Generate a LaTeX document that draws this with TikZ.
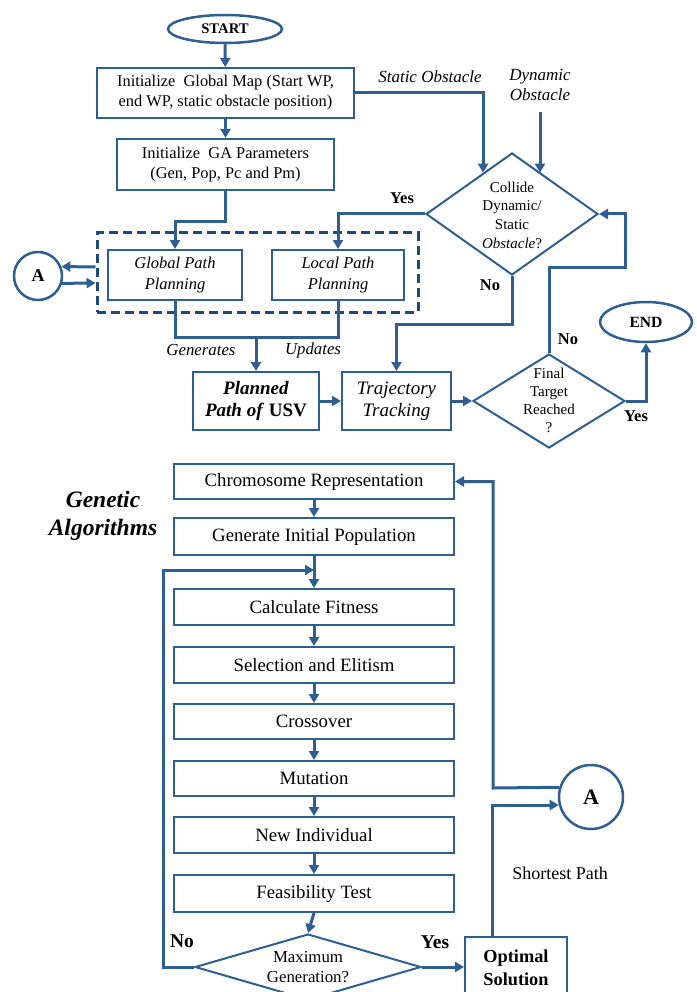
\documentclass[tikz,border=0pt]{standalone}
\usepackage{fontspec}
\setmainfont{Liberation Serif}
\usetikzlibrary{arrows.meta,shapes.geometric}
\definecolor{fc}{RGB}{46,95,146}
\definecolor{dc}{RGB}{31,73,125}
\begin{document}
\begin{tikzpicture}[x=1pt,y=-1pt,
  conn/.style={draw=fc,line width=3pt,-{Triangle[length=9pt,width=10pt]}},
  wire/.style={draw=fc,line width=3pt},
  box/.style={draw=fc,line width=2pt,rectangle,inner sep=0pt,align=center},
  dia/.style={draw=fc,line width=2pt,diamond,inner sep=0pt},
  term/.style={draw=fc,line width=2.5pt,ellipse,inner sep=0pt},
  conc/.style={draw=fc,line width=2.5pt,circle,inner sep=0pt},
  lbl/.style={inner sep=0pt,align=center},
  ftop/.style={font=\fontsize{16.4}{20}\selectfont},
  fbot/.style={font=\fontsize{18.8}{22}\selectfont},
  yntop/.style={lbl,font=\fontsize{16.5}{20}\selectfont\bfseries},
  ynbot/.style={lbl,font=\fontsize{19.5}{22}\selectfont\bfseries},
  ]
\clip (0,0) rectangle (696,992);
\fill[white] (0,0) rectangle (696,992);

% ---------- top flowchart ----------
\node[term,minimum width=114pt,minimum height=28pt,font=\fontsize{14.7}{17}\selectfont\bfseries] (start) at (225,29) {START};
\node[box,ftop,minimum width=257pt,minimum height=50pt] (b1) at (225.5,93) {Initialize\ \ Global Map (Start WP,\\end WP, static obstacle position)};
\node[box,ftop,minimum width=217pt,minimum height=51pt] (b2) at (225.5,164.5) {Initialize\ \ GA Parameters\\(Gen, Pop, Pc and Pm)};
\node[draw=dc,line width=3pt,dash pattern=on 9pt off 5pt,rectangle,minimum width=321pt,minimum height=79pt] (dbox) at (257.5,272.5) {};
\node[box,minimum width=134pt,minimum height=50pt,font=\fontsize{16.5}{21}\selectfont\itshape] (glob) at (175,275) {Global Path\\Planning};
\node[box,minimum width=132pt,minimum height=50pt,font=\fontsize{16.5}{21}\selectfont\itshape] (loc) at (338,275) {Local Path\\Planning};
\node[conc,minimum size=48pt,font=\fontsize{18}{20}\selectfont\bfseries] (A1) at (38,276) {A};
\node[box,minimum width=126pt,minimum height=58pt,font=\fontsize{19}{22}\selectfont] (plan) at (256,401) {\textbf{\textit{Planned}}\\\textbf{\textit{Path of} USV}};
\node[box,minimum width=109pt,minimum height=58pt,font=\fontsize{19}{22}\selectfont\itshape] (traj) at (396.5,401) {Trajectory\\Tracking};
\node[dia,minimum width=172pt,minimum height=122pt] (col) at (512,214) {};
\node[lbl,font=\fontsize{15}{18.7}\selectfont] (coltxt) at (512,215) {Collide\\Dynamic/\\Static\\\textit{Obstacle}?};
\node[dia,minimum width=152pt,minimum height=94pt] (fin) at (549,401) {};
\node[lbl,font=\fontsize{15}{18}\selectfont] (fintxt) at (549,400) {Final\\Target\\Reached\\?};
\node[term,minimum width=92pt,minimum height=40pt,font=\fontsize{15.6}{18}\selectfont\bfseries] (end) at (646,322) {END};

\node[lbl,font=\fontsize{17}{20}\selectfont\itshape] (slbl) at (430,77) {Static Obstacle};
\node[lbl,font=\fontsize{17}{20}\selectfont\itshape] (dlbl) at (540,85) {Dynamic\\Obstacle};
\node[yntop] (yes1) at (402,198) {Yes};
\node[yntop] (no1) at (490,285) {No};
\node[yntop] (no2) at (568,339) {No};
\node[yntop] (yes2) at (636,416) {Yes};
\node[lbl,font=\fontsize{16.8}{20}\selectfont\itshape] (gen) at (201,350) {Generates};
\node[lbl,font=\fontsize{16.8}{20}\selectfont\itshape] (upd) at (313,350) {Updates};

\coordinate (dynst) at (540,112);
\coordinate (mid) at (256,336);

\draw[conn] (start) -- (b1);
\draw[conn] (b1) -- (b2);
\draw[conn] (b2.south) -- ++(0,31) -| (glob.north);
\draw[conn] (b1.east) -| (col.125.67);
\draw[conn] (dynst) -- (dynst |- col.55.73);
\draw[conn] (col.west) -| (loc.north);
\draw[conn] (col.south) -- ++(0,48) -| (traj.north);
\draw[wire] (glob.south) -- ++(0,36) -| (loc.south);
\draw[conn] (mid) -- (plan.north);
\draw[conn] (plan.east) -- (traj.west);
\draw[conn] (traj.east) -- (fin.west);
\draw[conn] (fin.north) |- (625,267) |- (col.east);
\draw[conn] (fin.east) -| (end.south);
\draw[conn] ([yshift=5.5pt]dbox.west) -- (A1.22);
\draw[conn] (A1.-17) -- ([yshift=-10.5pt]dbox.west);

% ---------- genetic algorithm ----------
\node[lbl,font=\fontsize{23.5}{28}\selectfont\bfseries\itshape] (ga) at (103,516) {Genetic\\Algorithms};
\node[box,fbot,minimum width=280pt,minimum height=35pt] (chrom) at (314,481.5) {Chromosome Representation};
\node[box,fbot,minimum width=280pt,minimum height=37pt] (gip) at (314,536.5) {Generate Initial Population};
\node[box,fbot,minimum width=280pt,minimum height=36pt] (cf) at (314,607) {Calculate Fitness};
\node[box,fbot,minimum width=280pt,minimum height=36pt] (sel) at (314,665) {Selection and Elitism};
\node[box,fbot,minimum width=280pt,minimum height=35pt] (cro) at (314,721.5) {Crossover};
\node[box,fbot,minimum width=280pt,minimum height=35pt] (mut) at (314,778.5) {Mutation};
\node[box,fbot,minimum width=280pt,minimum height=36pt] (ni) at (314,835) {New Individual};
\node[box,fbot,minimum width=280pt,minimum height=37pt] (feas) at (314,893.5) {Feasibility Test};
\node[dia,minimum width=226pt,minimum height=66pt] (mg) at (308,967) {};
\node[lbl,font=\fontsize{16.8}{20}\selectfont] (mgtxt) at (308,967) {Maximum\\Generation?};
\node[box,minimum width=102pt,minimum height=62pt,font=\fontsize{18.3}{23}\selectfont\bfseries] (opt) at (516,968) {Optimal\\Solution};
\node[conc,minimum size=64pt,font=\fontsize{22}{24}\selectfont\bfseries] (A2) at (591,797) {A};
\node[lbl,font=\fontsize{18}{20}\selectfont] (sp) at (560,873) {Shortest Path};
\node[ynbot] (no3) at (182,941) {No};
\node[ynbot] (yes3) at (435,942) {Yes};

\coordinate (lp) at (163,570);
\coordinate (jn) at (314,570);
\coordinate (rt) at (493,788);

\draw[conn] (chrom) -- (gip);
\draw[conn] (gip) -- (cf);
\draw[conn] (cf) -- (sel);
\draw[conn] (sel) -- (cro);
\draw[conn] (cro) -- (mut);
\draw[conn] (mut) -- (ni);
\draw[conn] (ni) -- (feas);
\draw[conn] (feas.south) -- (mg.north);
\draw[conn] (mg.west) -| (lp) -- (jn);
\draw[conn] (mg.east) -- (mg.east -| opt.west);
\draw[conn] ([xshift=-24pt]opt.north) |- (A2.194.48);
\draw[conn] (A2.163.67) -- (rt) |- (chrom.east);
\end{tikzpicture}
\end{document}
